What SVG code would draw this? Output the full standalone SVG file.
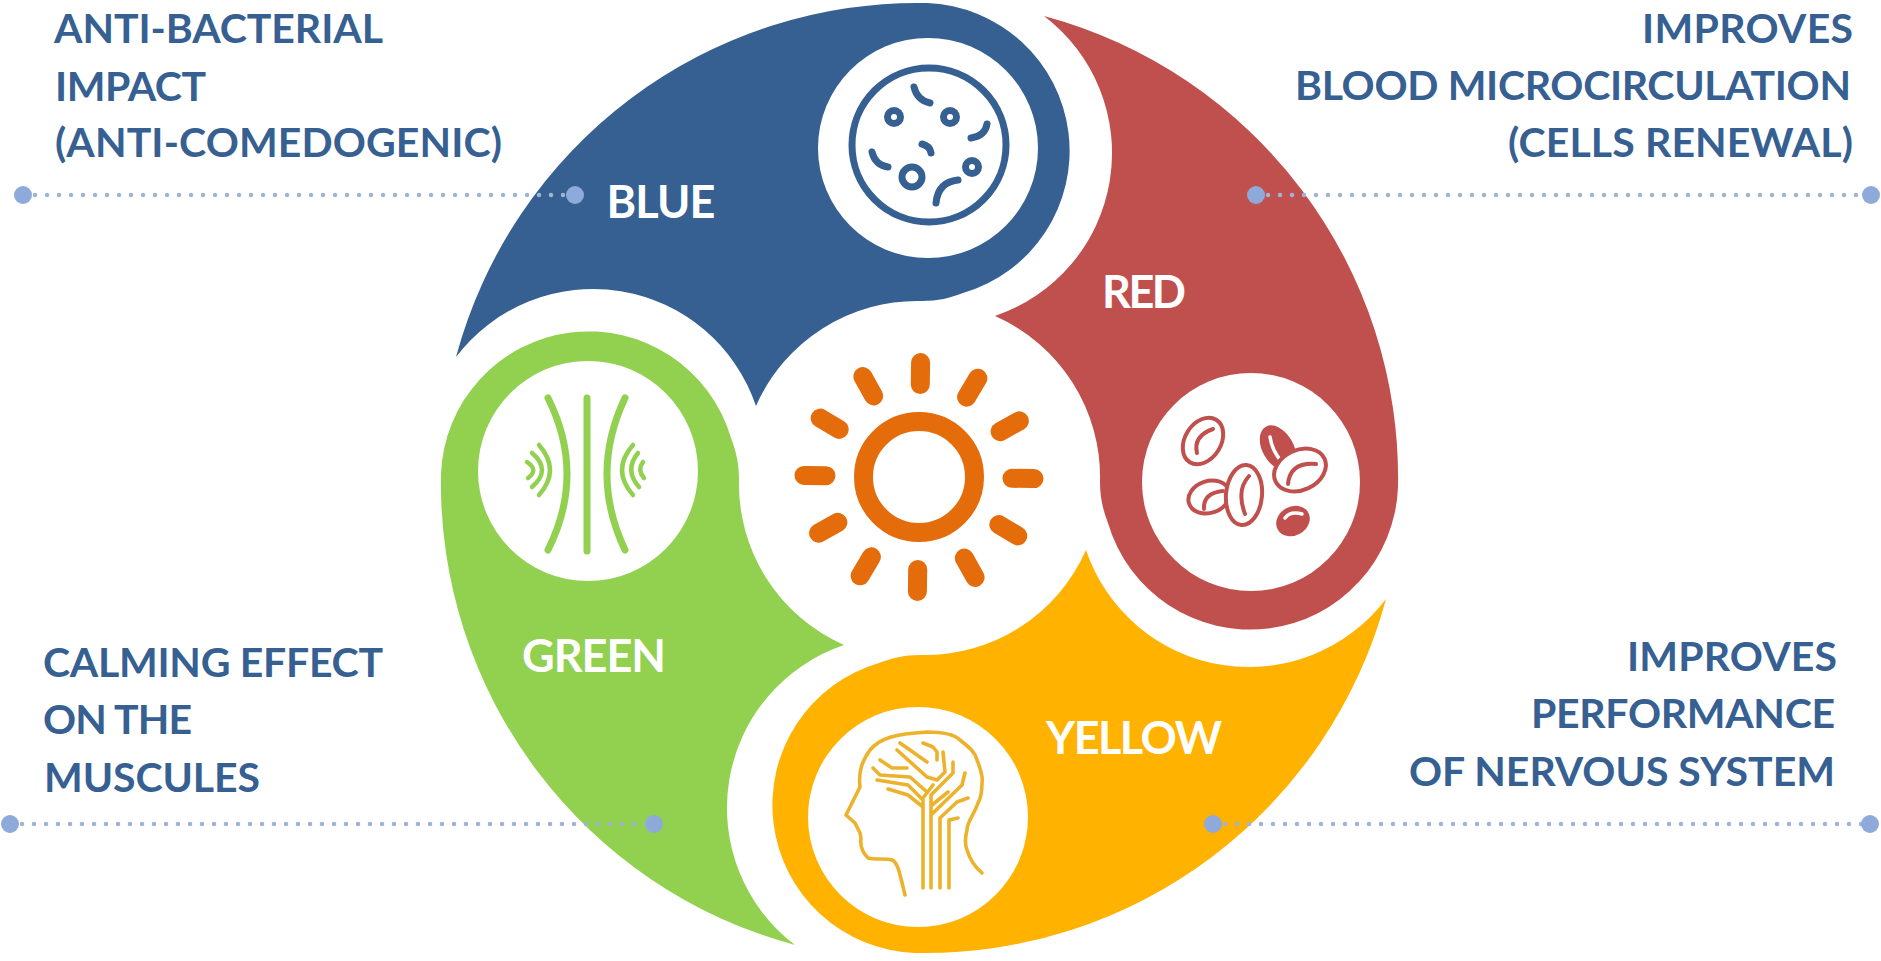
<svg xmlns="http://www.w3.org/2000/svg" width="1881" height="961" viewBox="0 0 1881 961">
<defs>
<path id="petal" d="M456,357 A478,478 0 0 1 927,3 A148,148 0 0 1 963,293 C950,298 938,301 922,301 A176,176 0 0 0 756,406 A172,172 0 0 0 456,357 Z"/>
</defs>
<style>
.cap{font-family:Lato,"Liberation Sans",sans-serif;font-weight:700;font-size:41px;fill:#366092}
.lab{font-family:Lato,"Liberation Sans",sans-serif;font-weight:700;font-size:45px;fill:#fff;text-anchor:middle}
.end{text-anchor:end}
.dots{stroke:#9DB4D2;stroke-width:4.5;stroke-linecap:round;stroke-dasharray:0 12;fill:none}
.dot{fill:#8EAADB}
.hole{fill:#fff}
.bi{fill:none;stroke:#366092;stroke-width:7;stroke-linecap:round}
.ri{fill:#fff;stroke:#C0504D;stroke-width:4;stroke-linecap:round}
.rf{fill:#C0504D;stroke:#C0504D;stroke-width:3}
.rw{fill:none;stroke:#fff;stroke-width:3.5;stroke-linecap:round}
.ra{fill:none;stroke:#C0504D;stroke-width:4;stroke-linecap:round}
.yi{fill:none;stroke:#EDB22B;stroke-width:3.6;stroke-linecap:round;stroke-linejoin:round}
.gi{fill:none;stroke:#92D050;stroke-width:7;stroke-linecap:round}
.gw{fill:none;stroke:#92D050;stroke-width:4.5;stroke-linecap:round}
.ray{stroke:#E46C0A;stroke-width:19;stroke-linecap:round}
</style>
<rect width="1881" height="961" fill="#fff"/>
<g id="blue">
<use href="#petal" fill="#366092"/>
<circle class="hole" cx="928" cy="148" r="110"/>
<circle cx="929" cy="145" r="77" fill="none" stroke="#366092" stroke-width="7"/>
<circle class="bi" cx="894" cy="117" r="6.500"/>
<circle class="bi" cx="950" cy="117" r="6.500"/>
<circle class="bi" cx="972" cy="167" r="6.500"/>
<circle class="bi" cx="912" cy="177" r="10"/>
<path class="bi" d="M914,87 Q917,100 930,103 M987,124 Q985,136 971,138 M872,152 Q875,165 888,167 M922,144 Q930,146 931,153 M958,180 Q938,182 936,203"/>
<text class="lab" x="661" y="218" textLength="109">BLUE</text>
</g>
<g id="red">
<use href="#petal" fill="#C0504D" transform="translate(5 2) rotate(90 919 477)"/>
<circle class="hole" cx="1251" cy="482" r="109"/>
<ellipse class="ri" cx="1203" cy="441" rx="25" ry="18" transform="rotate(-58 1203 441)"/>
<path class="ra" d="M1213,429 Q1193,436 1197,453"/>
<ellipse class="ri" cx="1209" cy="497" rx="21" ry="16" transform="rotate(-18 1209 497)"/>
<path class="ra" d="M1223,491 Q1203,493 1204,509"/>
<ellipse class="ri" cx="1244" cy="495" rx="30" ry="18" transform="rotate(-85 1244 495)"/>
<path class="ra" d="M1249,476 Q1236,490 1245,514"/>
<ellipse class="rf" cx="1278" cy="448" rx="14" ry="23" transform="rotate(-30 1278 448)"/>
<path class="rw" d="M1270,437 Q1272,450 1281,461"/>
<ellipse class="ri" cx="1300" cy="470" rx="27" ry="20" transform="rotate(-25 1300 470)"/>
<path class="ra" d="M1316,464 Q1290,462 1288,484"/>
<ellipse class="rf" cx="1293" cy="521" rx="16" ry="13" transform="rotate(-30 1293 521)"/>
<path class="rw" d="M1285,518 Q1290,511 1302,514"/>
<text class="lab" x="1144" y="308" textLength="84">RED</text>
</g>
<g id="yellow">
<use href="#petal" fill="#FFB200" transform="translate(4 2) rotate(180 919 477)"/>
<circle class="hole" cx="918" cy="817" r="110"/>
<path class="yi" d="M905,895 C900,875 898,862 892,860 C885,858 875,860 868,858 C862,852 860,845 861,838 L860,833 L855,823 L846,815 L860,787 C858,770 863,760 870,750 C880,738 895,734 927,732 C945,732 955,735 960,740 C970,748 975,752 977,760 C981,770 983,778 982,783 C982,792 981,798 978,803 C974,815 967,822 967,830 C965,838 965,845 967,850 C970,860 975,867 982,873"/>
<path class="yi" d="M923,888 V800 L908,785 L877,780 M923,807 L908,795 L888,789 M923,798 L933,785 M873,768 L880,775 L910,777 L927,792 M880,760 L892,768 H907 M900,743 L927,762 M897,750 L927,777 L937,780 M923,743 L933,747 L937,752 V760 M943,752 L945,772 L937,780 M953,762 V773 L931,795 V888 M965,773 L962,785 L931,815 M948,792 L932,805 M968,798 L957,802 L940,818 V888 M958,818 L949,820 V888"/>
<text class="lab" x="1134" y="754" textLength="176">YELLOW</text>
</g>
<g id="green">
<use href="#petal" fill="#92D050" transform="translate(-4 5) rotate(270 919 477)"/>
<circle class="hole" cx="588" cy="471" r="110"/>
<path class="gi" d="M587,398 V551 M548,398 Q586,474 548,550 M625,398 Q589,474 625,550"/>
<path class="gw" d="M539,445 Q561,470 539,495 M532,453 Q552,470 532,487 M527,462 Q539,470 528,478 M633,445 Q611,470 633,495 M638,453 Q624,470 639,487 M643,462 Q637,470 644,478"/>
<text class="lab" x="594" y="672" textLength="144">GREEN</text>
</g>
<g id="sun">
<circle cx="919" cy="477" r="55.5" fill="none" stroke="#E46C0A" stroke-width="19"/>
<g transform="rotate(0.8 919 477)">
<path class="ray" d="M919,362.500V384.500 M919,569.500V591.500 M804,477H826 M1012,477H1034 M861.500,377.400L872.500,396.500 M976.500,576.600L965.500,557.500 M819.400,419.500L838.500,430.500 M1018.600,534.500L999.500,523.500 M976.500,377.400L965.500,396.500 M861.500,576.600L872.500,557.500 M1018.600,419.500L999.500,430.500 M819.400,534.500L838.500,523.500"/>
</g>
</g>
<g id="connectors">
<path class="dots" d="M23,195H575 M1256,195H1871 M10,824H654 M1213,824H1870"/>
<circle class="dot" cx="23" cy="195" r="9"/><circle class="dot" cx="575" cy="195" r="9"/>
<circle class="dot" cx="1256" cy="195" r="9"/><circle class="dot" cx="1871" cy="195" r="9"/>
<circle class="dot" cx="10" cy="824" r="9"/><circle class="dot" cx="654" cy="824" r="9"/>
<circle class="dot" cx="1213" cy="824" r="9"/><circle class="dot" cx="1870" cy="824" r="9"/>
</g>
<g id="captions">
<text class="cap" x="54" y="43" textLength="329">ANTI-BACTERIAL</text>
<text class="cap" x="55" y="101" textLength="151">IMPACT</text>
<text class="cap" x="55" y="157" textLength="447">(ANTI-COMEDOGENIC)</text>
<text class="cap end" x="1853" y="43" textLength="211">IMPROVES</text>
<text class="cap end" x="1851" y="100" textLength="556">BLOOD MICROCIRCULATION</text>
<text class="cap end" x="1853" y="157" textLength="345">(CELLS RENEWAL)</text>
<text class="cap" x="43" y="677" textLength="340">CALMING EFFECT</text>
<text class="cap" x="43" y="734" textLength="149">ON THE</text>
<text class="cap" x="44" y="792" textLength="216">MUSCULES</text>
<text class="cap end" x="1837" y="671" textLength="210">IMPROVES</text>
<text class="cap end" x="1835" y="728" textLength="304">PERFORMANCE</text>
<text class="cap end" x="1835" y="786" textLength="426">OF NERVOUS SYSTEM</text>
</g>
</svg>
